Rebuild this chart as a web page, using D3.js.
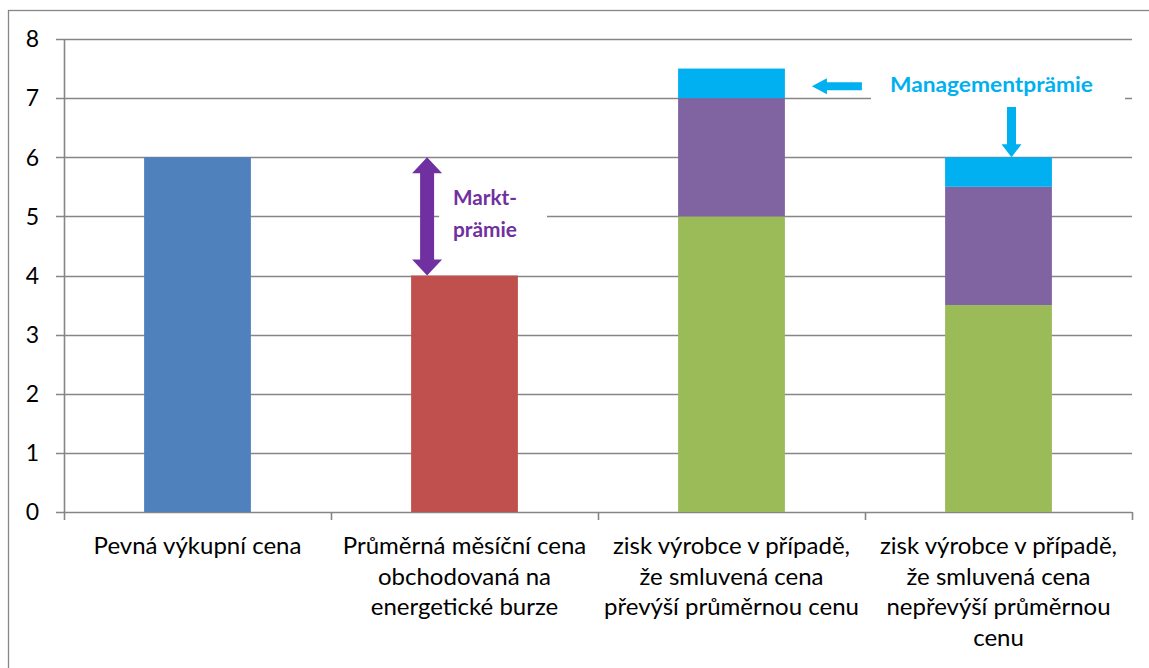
<!DOCTYPE html>
<html>
<head>
<meta charset="utf-8">
<script src="https://cdn.jsdelivr.net/npm/d3@7"></script>
<style>
  body { margin: 0; background: #fff; }
  svg text { font-family: Lato, "Open Sans", sans-serif; }
</style>
</head>
<body>
<div id="chart"></div>
<script>
// chart size
const width = 1149;
const height = 668;

// data
const categories = [
  "Pevná výkupní cena",
  "Průměrná měsíční cena obchodovaná na energetické burze",
  "zisk výrobce v případě, že smluvená cena převýší průměrnou cenu",
  "zisk výrobce v případě, že smluvená cena nepřevýší průměrnou cenu"
];
const categoryLines = [
  ["Pevná výkupní cena"],
  ["Průměrná měsíční cena", "obchodovaná na", "energetické burze"],
  ["zisk výrobce v případě,", "že smluvená cena", "převýší průměrnou cenu"],
  ["zisk výrobce v případě,", "že smluvená cena", "nepřevýší průměrnou", "cenu"]
];
const fixedPrice = [6, 0, 0, 0];
const marketPrice = [0, 4, 0, 0];
const producerBase = [0, 0, 5, 3.5];
const marketPremium = [0, 0, 2, 2];
const managementPremium = [0, 0, 0.5, 0.5];
const yTicks = [0, 1, 2, 3, 4, 5, 6, 7, 8];

const seriesKeys = ["fixed", "market", "base", "mprem", "mgmt"];
const colors = {
  fixed: "#4F81BD",
  market: "#C0504D",
  base: "#9BBB59",
  mprem: "#8064A2",
  mgmt: "#00B0F0"
};

// build table for d3.stack
const table = categories.map((c, i) => ({
  cat: c,
  fixed: fixedPrice[i],
  market: marketPrice[i],
  base: producerBase[i],
  mprem: marketPremium[i],
  mgmt: managementPremium[i]
}));

const margin = { top: 39, left: 64, right: 1149 - 1132, bottom: 668 - 512 };

const svg = d3.select("#chart")
  .append("svg")
  .attr("width", width)
  .attr("height", height);

// outer frame (right/bottom edges fall outside the picture)
svg.append("rect")
  .attr("x", 8.5).attr("y", 10.5)
  .attr("width", 1200).attr("height", 700)
  .attr("fill", "none")
  .attr("stroke", "#868686")
  .attr("stroke-width", 1.3);

const x = d3.scaleBand()
  .domain(categories)
  .range([margin.left, width - margin.right])
  .padding(0);

const y = d3.scaleLinear()
  .domain([0, 8])
  .range([height - margin.bottom, margin.top]);

const gridColor = "#868686";

// horizontal gridlines
svg.append("g")
  .selectAll("line")
  .data(yTicks)
  .enter()
  .append("line")
  .attr("x1", margin.left - 8)
  .attr("x2", width - margin.right)
  .attr("y1", d => Math.round(y(d)) + 0.5)
  .attr("y2", d => Math.round(y(d)) + 0.5)
  .attr("stroke", gridColor)
  .attr("stroke-width", 1.6);

// y axis line
svg.append("line")
  .attr("x1", margin.left + 0.5).attr("x2", margin.left + 0.5)
  .attr("y1", y(8)).attr("y2", y(0))
  .attr("stroke", gridColor)
  .attr("stroke-width", 1.6);

// y tick labels
svg.append("g")
  .selectAll("text")
  .data(yTicks)
  .enter()
  .append("text")
  .attr("x", 39)
  .attr("y", d => y(d))
  .attr("dy", "0.36em")
  .attr("text-anchor", "end")
  .attr("font-size", 23)
  .attr("fill", "#000")
  .text(d => d);

// category boundary ticks
const boundaries = categories.map(c => x(c)).concat([x.range()[1]]);
svg.append("g")
  .selectAll("line")
  .data(boundaries)
  .enter()
  .append("line")
  .attr("x1", d => Math.round(d) + 0.5)
  .attr("x2", d => Math.round(d) + 0.5)
  .attr("y1", y(0))
  .attr("y2", y(0) + 8)
  .attr("stroke", gridColor)
  .attr("stroke-width", 1.6);

// stacked bars
const stack = d3.stack().keys(seriesKeys);
const layers = stack(table);
const barW = x.bandwidth() * 0.4;

svg.append("g")
  .selectAll("g")
  .data(layers)
  .enter()
  .append("g")
  .attr("fill", d => colors[d.key])
  .selectAll("rect")
  .data(d => d.filter(s => s[1] - s[0] > 0))
  .enter()
  .append("rect")
  .attr("x", d => x(d.data.cat) + (x.bandwidth() - barW) / 2)
  .attr("width", barW)
  .attr("y", d => y(d[1]))
  .attr("height", d => y(d[0]) - y(d[1]));

// category labels
const labels = svg.append("g")
  .selectAll("text")
  .data(categories)
  .enter()
  .append("text")
  .attr("text-anchor", "middle")
  .attr("font-size", 24)
  .attr("fill", "#000");

labels.each(function(d, i) {
  const t = d3.select(this);
  categoryLines[i].forEach((line, j) => {
    t.append("tspan")
      .attr("x", x(d) + x.bandwidth() / 2)
      .attr("y", 554 + j * 30.5)
      .text(line);
  });
});

// annotation: Marktprämie (double arrow between fixed price and market price)
const purple = "#7030A0";
const ax = x(categories[1]) + (x.bandwidth() - barW) / 2 + 16;
const aTop = y(fixedPrice[0]);
const aBot = y(marketPrice[1]);

svg.append("rect")
  .attr("x", ax + 12).attr("y", 178)
  .attr("width", 547 - ax - 12).attr("height", 72)
  .attr("fill", "#fff");

svg.append("path")
  .attr("d", [
    "M", ax, aTop,
    "L", ax + 15, aTop + 16,
    "L", ax + 7, aTop + 16,
    "L", ax + 7, aBot - 16,
    "L", ax + 15, aBot - 16,
    "L", ax, aBot,
    "L", ax - 15, aBot - 16,
    "L", ax - 7, aBot - 16,
    "L", ax - 7, aTop + 16,
    "L", ax - 15, aTop + 16,
    "Z"
  ].join(" "))
  .attr("fill", purple);

svg.append("text")
  .attr("x", 453).attr("y", 205)
  .attr("font-size", 21).attr("font-weight", "bold")
  .attr("fill", purple)
  .attr("textLength", 64).attr("lengthAdjust", "spacingAndGlyphs")
  .text("Markt-");
svg.append("text")
  .attr("x", 453).attr("y", 237)
  .attr("font-size", 21).attr("font-weight", "bold")
  .attr("fill", purple)
  .attr("textLength", 64).attr("lengthAdjust", "spacingAndGlyphs")
  .text("prämie");

// annotation: Managementprämie
const cyan = "#00B0F0";
svg.append("rect")
  .attr("x", 871).attr("y", 64)
  .attr("width", 254).attr("height", 40)
  .attr("fill", "#fff");

svg.append("text")
  .attr("x", 890).attr("y", 92)
  .attr("font-size", 21).attr("font-weight", "bold")
  .attr("fill", cyan)
  .attr("textLength", 203).attr("lengthAdjust", "spacingAndGlyphs")
  .text("Managementprämie");

// left arrow pointing at the third bar's top segment
const lx = x(categories[2]) + (x.bandwidth() + barW) / 2 + 27;
const ly = y(producerBase[2] + marketPremium[2] + managementPremium[2] / 2) + 3;
svg.append("path")
  .attr("d", [
    "M", lx, ly,
    "L", lx + 15, ly - 8,
    "L", lx + 15, ly - 4,
    "L", lx + 50, ly - 4,
    "L", lx + 50, ly + 4,
    "L", lx + 15, ly + 4,
    "L", lx + 15, ly + 8,
    "Z"
  ].join(" "))
  .attr("fill", cyan);

// down arrow pointing at the fourth bar's top
const dx = x(categories[3]) + x.bandwidth() / 2 + 13;
const dTip = y(producerBase[3] + marketPremium[3] + managementPremium[3]);
svg.append("path")
  .attr("d", [
    "M", dx, dTip,
    "L", dx - 10, dTip - 13,
    "L", dx - 4.5, dTip - 13,
    "L", dx - 4.5, 107,
    "L", dx + 4.5, 107,
    "L", dx + 4.5, dTip - 13,
    "L", dx + 10, dTip - 13,
    "Z"
  ].join(" "))
  .attr("fill", cyan);
</script>
</body>
</html>
